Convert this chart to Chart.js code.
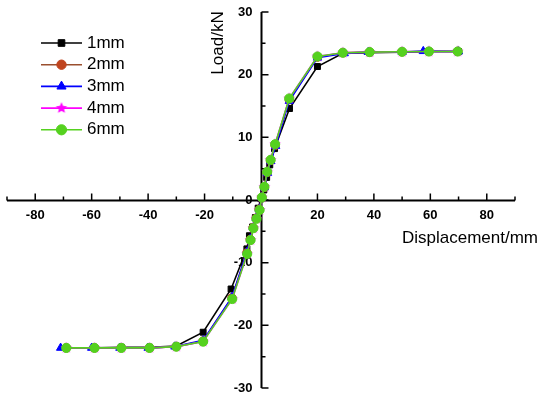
<!DOCTYPE html>
<html>
<head>
<meta charset="utf-8">
<script src="https://cdn.jsdelivr.net/npm/chart.js@4/dist/chart.umd.min.js"></script>
<style>
  body { margin: 0; background: #fff; }
  #wrap { width: 550px; height: 399px; }
</style>
</head>
<body>
<div id="wrap"><canvas id="curva"></canvas></div>
<script>
// series names
const nombres = ['1mm', '2mm', '3mm', '4mm', '6mm'];

// displacement (mm) for each series
const disp1 = [-69, -59, -49.5, -39.5, -30, -20.5, -10.6, -5, -4.1, -3, -2, -1, 0, 1, 2, 3.1, 4.8, 10.1, 20, 29, 38.5, 50, 59.5, 70];
const disp2 = [-69, -59, -49.5, -39.5, -30, -20.5, -10.3, -5, -3.8, -2.8, -1.7, -0.6, 0.3, 1.2, 2.2, 3.4, 5, 10, 20, 29, 38.5, 50, 59.5, 69.7];
const disp3 = [-71, -60, -50, -40, -30.5, -20.5, -10.3, -5, -3.8, -2.8, -1.7, -0.6, 0.3, 1.2, 2.3, 3.5, 5.2, 10, 20, 29.5, 38, 50, 57.5, 70];
const disp4 = [-69, -59, -49.5, -39.5, -30, -20.5, -10.2, -4.9, -3.7, -2.7, -1.6, -0.5, 0.3, 1.2, 2.2, 3.4, 5, 10, 20, 29, 38.5, 50, 59.5, 69.7];
const disp6 = [-69, -59, -49.5, -39.5, -30, -20.5, -10.2, -4.9, -3.7, -2.7, -1.6, -0.5, 0.3, 1.2, 2.2, 3.4, 5, 10, 20, 29, 38.5, 50, 59.5, 69.7];

// load (kN) for each series
const load1 = [-23.6, -23.6, -23.5, -23.5, -23.3, -21.1, -14.2, -7.8, -5.7, -4.3, -2.8, -1.3, 0.2, 1.6, 3.6, 5.6, 8.2, 14.6, 21.3, 23.4, 23.5, 23.6, 23.7, 23.7];
const load2 = [-23.6, -23.6, -23.6, -23.6, -23.4, -22.5, -15.6, -8.4, -6.3, -4.4, -2.9, -1.5, 0.4, 2, 4.4, 6.3, 8.7, 16, 22.8, 23.5, 23.6, 23.65, 23.7, 23.7];
const load3 = [-23.6, -23.6, -23.6, -23.6, -23.4, -22.4, -15.5, -8.3, -6.2, -4.4, -2.9, -1.5, 0.4, 2, 4.3, 6.2, 8.6, 15.8, 22.7, 23.4, 23.6, 23.6, 23.75, 23.7];
const load4 = [-23.6, -23.6, -23.6, -23.6, -23.4, -22.6, -15.8, -8.6, -6.4, -4.5, -3, -1.6, 0.4, 2.1, 4.5, 6.4, 8.9, 16.2, 22.9, 23.5, 23.6, 23.65, 23.7, 23.7];
const load6 = [-23.6, -23.6, -23.6, -23.6, -23.4, -22.6, -15.8, -8.6, -6.4, -4.5, -3, -1.6, 0.4, 2.1, 4.5, 6.4, 8.9, 16.2, 22.9, 23.5, 23.6, 23.65, 23.7, 23.7];

// tick labels
const xTicks = [-80, -60, -40, -20, 20, 40, 60, 80];
const xMinor = [-90, -70, -50, -30, -10, 0, 10, 30, 50, 70, 90];
const yTicks = [-30, -20, -10, 0, 10, 20, 30];
const yMinor = [-25, -15, -5, 5, 15, 25];

const lineas = ['#000000', '#9a4f2e', '#0000ff', '#ff00ff', '#55d11f'];
const rellenos = ['#000000', '#c0441e', '#0000ff', '#ff00ff', '#55d11f'];
const radios = [4.2, 4.2, 4.8, 5, 4.6];

// 5 point star for the 4mm series
function estrella(color, r) {
  const c = document.createElement('canvas');
  const s = Math.ceil(r * 2 + 2);
  c.width = s; c.height = s;
  const g = c.getContext('2d');
  g.fillStyle = color;
  g.beginPath();
  for (let k = 0; k < 10; k++) {
    const rr = k % 2 === 0 ? r : r * 0.45;
    const a = -Math.PI / 2 + k * Math.PI / 5;
    g.lineTo(s / 2 + rr * Math.cos(a), s / 2 + rr * Math.sin(a));
  }
  g.closePath();
  g.fill();
  return c;
}
const formas = ['rect', 'circle', 'triangle', estrella('#ff00ff', 6), 'circle'];

const xs = [disp1, disp2, disp3, disp4, disp6];
const ys = [load1, load2, load3, load4, load6];

function puntos(a, b) {
  return a.map((v, i) => ({ x: v, y: b[i] }));
}

const datasets = nombres.map((n, i) => ({
  label: n,
  data: puntos(xs[i], ys[i]),
  showLine: true,
  borderColor: lineas[i],
  borderWidth: 1.6,
  backgroundColor: rellenos[i],
  pointBackgroundColor: rellenos[i],
  pointBorderColor: rellenos[i],
  pointBorderWidth: 1,
  pointStyle: formas[i],
  pointRadius: radios[i],
  order: 4 - i
}));

const ejes = {
  id: 'ejes',
  beforeDatasetsDraw(chart) {
    const ctx = chart.ctx;
    const sx = chart.scales.x, sy = chart.scales.y;
    const x0 = Math.round(sx.getPixelForValue(0)) + 0.5;
    const y0 = Math.round(sy.getPixelForValue(0)) + 0.5;
    ctx.save();
    ctx.strokeStyle = '#000';
    ctx.fillStyle = '#000';
    ctx.lineWidth = 2;
    ctx.beginPath();
    ctx.moveTo(sx.getPixelForValue(-90), y0);
    ctx.lineTo(sx.getPixelForValue(90), y0);
    ctx.moveTo(x0, sy.getPixelForValue(30));
    ctx.lineTo(x0, sy.getPixelForValue(-30));
    ctx.stroke();
    ctx.lineWidth = 1.5;
    ctx.beginPath();
    xTicks.forEach(v => { const p = sx.getPixelForValue(v); ctx.moveTo(p, y0); ctx.lineTo(p, y0 - 7); });
    xMinor.forEach(v => { const p = sx.getPixelForValue(v); ctx.moveTo(p, y0); ctx.lineTo(p, y0 - 4); });
    yTicks.forEach(v => { const p = sy.getPixelForValue(v); ctx.moveTo(x0, p); ctx.lineTo(x0 + 7, p); });
    yMinor.forEach(v => { const p = sy.getPixelForValue(v); ctx.moveTo(x0, p); ctx.lineTo(x0 + 4, p); });
    ctx.stroke();

    ctx.font = 'bold 13px "Liberation Sans", Arial, sans-serif';
    ctx.textAlign = 'center';
    ctx.textBaseline = 'middle';
    xTicks.forEach(v => ctx.fillText(String(v), sx.getPixelForValue(v), y0 + 15));
    ctx.textAlign = 'right';
    yTicks.forEach(v => ctx.fillText(String(v), x0 - 9, sy.getPixelForValue(v)));

    ctx.font = '17px "Liberation Sans", Arial, sans-serif';
    ctx.textAlign = 'left';
    ctx.fillText('Displacement/mm', 402, 238);
    ctx.save();
    ctx.translate(227, 43);
    ctx.rotate(-Math.PI / 2);
    ctx.textAlign = 'center';
    ctx.textBaseline = 'bottom';
    ctx.fillText('Load/kN', 0, 0);
    ctx.restore();
    ctx.restore();
  },
  afterDraw(chart) {
    const ctx = chart.ctx;
    ctx.save();
    ctx.font = '17px "Liberation Sans", Arial, sans-serif';
    ctx.textBaseline = 'middle';
    ctx.textAlign = 'left';
    nombres.forEach((n, i) => {
      const y = 43 + i * 21.7;
      ctx.strokeStyle = lineas[i];
      ctx.lineWidth = 1.6;
      ctx.beginPath();
      ctx.moveTo(41, y);
      ctx.lineTo(82, y);
      ctx.stroke();
      ctx.fillStyle = rellenos[i];
      ctx.strokeStyle = rellenos[i];
      ctx.lineWidth = 1;
      Chart.helpers.drawPoint(ctx, { pointStyle: formas[i], radius: radios[i] + 0.5, rotation: 0, borderWidth: 1 }, 61.5, y);
      ctx.fillStyle = '#000';
      ctx.fillText(n, 87, y);
    });
    ctx.restore();
  }
};

new Chart(document.getElementById('curva'), {
  type: 'scatter',
  data: { datasets: datasets },
  options: {
    responsive: true,
    maintainAspectRatio: false,
    animation: false,
    layout: { padding: { left: 7, right: 35, top: 12, bottom: 11 } },
    plugins: { legend: { display: false }, tooltip: { enabled: false } },
    scales: {
      x: { type: 'linear', min: -90, max: 90, display: false },
      y: { type: 'linear', min: -30, max: 30, display: false }
    }
  },
  plugins: [ejes]
});
</script>
</body>
</html>
